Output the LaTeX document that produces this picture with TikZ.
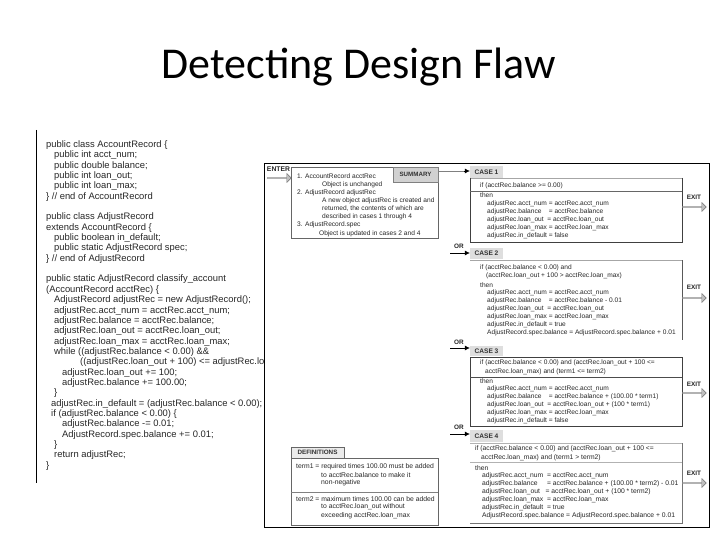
\documentclass[tikz,border=0pt]{standalone}
\usepackage{fontspec}
\setmainfont{Liberation Sans}
\newfontfamily\titlefont{Carlito}
\usetikzlibrary{positioning, arrows.meta, shapes.arrows}

\tikzset{
    codeline/.style={anchor=west, inner sep=0pt, font=\fontsize{9.4}{10}\selectfont, text=black!85},
    smalltext/.style={anchor=west, inner sep=0pt, font=\fontsize{6.6}{7}\selectfont, text=black!85},
    widetext/.style={smalltext, font=\fontsize{6.75}{7}\selectfont},
    deftext/.style={smalltext, font=\fontsize{6.8}{8}\selectfont},
    labeltext/.style={anchor=center, inner sep=0pt, font=\fontsize{6.4}{7}\selectfont\bfseries, text=black!85},
    casetab/.style={fill=black!13, minimum width=33pt, inner sep=0pt, font=\fontsize{6.6}{7}\selectfont\bfseries, text=black!80},
    flowarrow/.style={-{Latex[length=5pt,width=5pt]}, line width=0.5pt},
    hollowarrow/.style={single arrow, draw=black!55, fill=black!25, line width=0.4pt, inner sep=0pt, minimum height=24pt, minimum width=9pt, single arrow head extend=1.5pt}
}

\begin{document}
\begin{tikzpicture}[x=1pt, y=-1pt]
    \useasboundingbox (0,0) rectangle (720,540);

    \node[inner sep=0pt, font=\titlefont\fontsize{44}{48}\selectfont] (title) at (359,67) {Detecting Design Flaw};

    % Code listing on the left
    \draw[line width=0.8pt] (36,130) -- (36,483);
    \foreach \ypos/\xpos/\codetext in {
        0/46/{public class AccountRecord \{},
        1/54/{public int acct\_num;},
        2/54/{public double balance;},
        3/54/{public int loan\_out;},
        4/54/{public int loan\_max;},
        5/46/{\} // end of AccountRecord},
        7/46/{public class AdjustRecord},
        8/46/{extends AccountRecord \{},
        9/54/{public boolean in\_default;},
        10/54/{public static AdjustRecord spec;},
        11/46/{\} // end of AdjustRecord},
        13/46/{public static AdjustRecord classify\_account},
        14/46/{(AccountRecord acctRec) \{},
        15/54/{AdjustRecord adjustRec = new AdjustRecord();},
        16/54/{adjustRec.acct\_num = acctRec.acct\_num;},
        17/54/{adjustRec.balance = acctRec.balance;},
        18/54/{adjustRec.loan\_out = acctRec.loan\_out;},
        19/54/{adjustRec.loan\_max = acctRec.loan\_max;},
        20/54/{while ((adjustRec.balance < 0.00) \&\&},
        21/80/{((adjustRec.loan\_out + 100) <= adjustRec.loan\_max)) \{},
        22/62/{adjustRec.loan\_out += 100;},
        23/62/{adjustRec.balance += 100.00;},
        24/54/{\}},
        25/51/{adjustRec.in\_default = (adjustRec.balance < 0.00);},
        26/51/{if (adjustRec.balance < 0.00) \{},
        27/62/{adjustRec.balance -= 0.01;},
        28/62/{AdjustRecord.spec.balance += 0.01;},
        29/54/{\}},
        30/54/{return adjustRec;},
        31/46/{\}}}
        \node[codeline] at (\xpos,145+10.35*\ypos) {\codetext};

    % Outer frame, covers the long code line
    \draw[fill=white, line width=0.8pt] (264,163.5) rectangle (709,527);

    % Entry and summary
    \node[labeltext, font=\fontsize{6.8}{7}\selectfont\bfseries] (enterlabel) at (278.5,169) {ENTER};
    \node[hollowarrow] (enterarrow) at (279,178) {};
    \draw[fill=white, draw=black!60, line width=0.6pt] (291,167) rectangle (438,238);
    \node[draw=black!50, fill=black!18, line width=0.5pt, minimum width=45pt, minimum height=15pt, inner sep=0pt, font=\fontsize{6.2}{7}\selectfont\bfseries, text=black!80] (summarytab) at (415.5,174.5) {SUMMARY};
    \node[smalltext] at (297,176) {1. AccountRecord acctRec};
    \node[smalltext] at (322,184.5) {Object is unchanged};
    \node[smalltext] at (297,192.5) {2. AdjustRecord adjustRec};
    \node[smalltext] at (322,200.5) {A new object adjustRec is created and};
    \node[smalltext] at (322,208.5) {returned, the contents of which are};
    \node[smalltext] at (322,217) {described in cases 1 through 4};
    \node[smalltext] at (297,225) {3. AdjustRecord.spec};
    \node[smalltext] at (319,234) {Object is updated in cases 2 and 4};

    % Case 1
    \draw[line width=0.5pt, draw=black!35] (470,178) -- (682,178);
    \draw[line width=0.7pt, draw=black!75] (682,178) -- (682,242) -- (470,242) -- (470,178);
    \draw[line width=0.5pt, draw=black!60] (470,191) -- (682,191);
    \node[casetab, minimum height=12pt] (caseone) at (486.5,172) {CASE 1};
    \node[smalltext] at (480,186) {if (acctRec.balance >= 0.00)};
    \node[smalltext] at (480,195) {then};
    \node[smalltext] at (487,203.5) {adjustRec.acct\_num = acctRec.acct\_num};
    \node[smalltext] at (487,212) {adjustRec.balance \ \ \ = acctRec.balance};
    \node[smalltext] at (487,220) {adjustRec.loan\_out \ = acctRec.loan\_out};
    \node[smalltext] at (487,228) {adjustRec.loan\_max = acctRec.loan\_max};
    \node[smalltext] at (487,236) {adjustRec.in\_default = false};

    % Case 2
    \draw[line width=0.5pt, draw=black!35] (470,260) -- (682,260);
    \draw[line width=0.6pt, draw=black!65] (682,260) -- (682,340);
    \node[casetab, minimum height=11pt] (casetwo) at (486.5,253.5) {CASE 2};
    \node[smalltext] at (480,268) {if (acctRec.balance < 0.00) and};
    \node[smalltext] at (486,275.5) {(acctRec.loan\_out + 100 > acctRec.loan\_max)};
    \node[smalltext] at (480,285) {then};
    \node[smalltext] at (487,293) {adjustRec.acct\_num = acctRec.acct\_num};
    \node[smalltext] at (487,301) {adjustRec.balance \ \ \ = acctRec.balance - 0.01};
    \node[smalltext] at (487,309) {adjustRec.loan\_out \ = acctRec.loan\_out};
    \node[smalltext] at (487,316.5) {adjustRec.loan\_max = acctRec.loan\_max};
    \node[smalltext] at (487,325) {adjustRec.in\_default = true};
    \node[smalltext] at (487,333) {AdjustRecord.spec.balance = AdjustRecord.spec.balance + 0.01};

    % Case 3
    \draw[line width=0.7pt, draw=black!75] (470,357) rectangle (682,426);
    \draw[line width=0.5pt, draw=black!70] (470,377) -- (682,377);
    \node[casetab, minimum height=10.5pt] (casethree) at (486.5,351) {CASE 3};
    \node[smalltext] at (480,363) {if (acctRec.balance < 0.00) and (acctRec.loan\_out + 100 <=};
    \node[smalltext] at (485,371.5) {acctRec.loan\_max) and (term1 <= term2)};
    \node[smalltext] at (480,381) {then};
    \node[smalltext] at (487,389) {adjustRec.acct\_num = acctRec.acct\_num};
    \node[smalltext] at (487,397) {adjustRec.balance \ \ \ = acctRec.balance + (100.00 * term1)};
    \node[smalltext] at (487,405) {adjustRec.loan\_out \ = acctRec.loan\_out + (100 * term1)};
    \node[smalltext] at (487,413) {adjustRec.loan\_max = acctRec.loan\_max};
    \node[smalltext] at (487,421) {adjustRec.in\_default = false};

    % Case 4
    \draw[line width=0.5pt, draw=black!30] (470,443) -- (682,443);
    \draw[line width=0.6pt, draw=black!55] (682,443) -- (682,523) -- (470,523);
    \draw[line width=0.5pt, draw=black!30] (470,462) -- (682,462);
    \node[casetab, minimum height=12pt] (casefour) at (486.5,436) {CASE 4};
    \node[widetext] at (475,449) {if (acctRec.balance < 0.00) and (acctRec.loan\_out + 100 <=};
    \node[widetext] at (481,458) {acctRec.loan\_max) and (term1 > term2)};
    \node[widetext] at (475,468) {then};
    \node[widetext] at (482,475.5) {adjustRec.acct\_num \ = acctRec.acct\_num};
    \node[widetext] at (482,483.5) {adjustRec.balance \ \ \ \ = acctRec.balance + (100.00 * term2) - 0.01};
    \node[widetext] at (482,492) {adjustRec.loan\_out \ \ = acctRec.loan\_out + (100 * term2)};
    \node[widetext] at (482,500) {adjustRec.loan\_max \ = acctRec.loan\_max};
    \node[widetext] at (482,507.5) {adjustRec.in\_default \ = true};
    \node[widetext] at (482,516) {AdjustRecord.spec.balance = AdjustRecord.spec.balance + 0.01};

    % Flow arrows between the boxes
    \coordinate (sumout) at (438,171);
    \coordinate (sumturn) at (464,171);
    \draw[draw=black!50, line width=0.9pt] (sumout) -- (sumturn);
    \draw[flowarrow] (sumturn) -- (caseone.west |- sumturn);
    \foreach \orname/\ortarget/\ory/\orlabel in {ortwo/casetwo/253/246, orthree/casethree/348/342, orfour/casefour/434/427} {
        \node[labeltext] (\orname) at (459,\orlabel) {OR};
        \coordinate (\orname start) at (450,\ory);
        \draw[flowarrow] (\orname start) -- (\ortarget.west |- \orname start);
    }

    % Exits
    \foreach \exitname/\exitlabel/\exity in {exitone/197/207, exittwo/287/298, exitthree/384/393, exitfour/473/483} {
        \node[labeltext] (\exitname) at (694,\exitlabel) {EXIT};
        \node[hollowarrow] at (694,\exity) {};
    }

    % Definitions
    \draw[fill=white, draw=black!60, line width=0.6pt] (291,458) rectangle (438,525);
    \draw[draw=black!50, line width=0.5pt] (291,492) -- (438,492);
    \node[draw=black!60, fill=black!8, line width=0.5pt, minimum width=53pt, minimum height=11pt, inner sep=0pt, font=\fontsize{6.3}{7}\selectfont\bfseries, text=black!80] (definitions) at (317.5,452.5) {DEFINITIONS};
    \node[deftext] at (296,467) {term1 = required times 100.00 must be added};
    \node[deftext] at (321,475) {to acctRec.balance to make it};
    \node[deftext] at (321,483) {non-negative};
    \node[deftext] at (296,499) {term2 = maximum times 100.00 can be added};
    \node[deftext] at (321,507) {to acctRec.loan\_out without};
    \node[deftext] at (321,516) {exceeding acctRec.loan\_max};
\end{tikzpicture}
\end{document}
